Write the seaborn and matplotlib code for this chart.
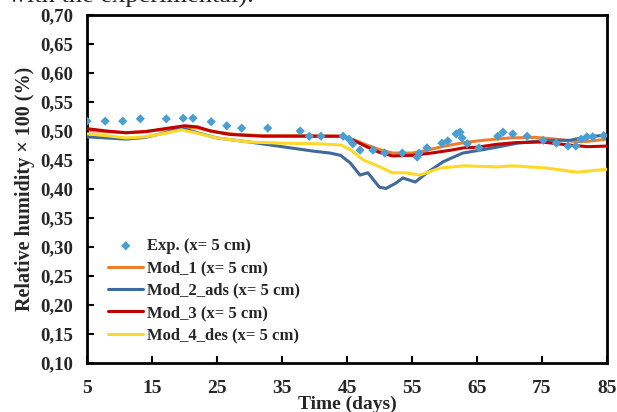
import matplotlib
matplotlib.use("Agg")
import matplotlib.pyplot as plt
import seaborn as sns
import numpy as np

# ---------------- data ----------------
exp_days = [5, 7.8, 10.5, 13.2, 17.2, 19.8, 21.3, 24.1, 26.5, 28.8, 32.8, 37.8, 39.2, 41.0,
            44.4, 45.3, 45.9, 47.0, 49.0, 50.8, 53.5, 55.8, 56.1, 57.3, 59.6, 60.5, 61.8,
            62.4, 62.7, 63.5, 65.3, 68.2, 69.0, 70.5, 72.7, 75.2, 77.2, 79.0, 80.2, 81.0,
            81.9, 82.8, 84.5]
exp_rh = [0.517, 0.517, 0.517, 0.521, 0.521, 0.522, 0.522, 0.516, 0.509, 0.505, 0.505, 0.500,
          0.491, 0.491, 0.491, 0.486, 0.478, 0.467, 0.467, 0.462, 0.462, 0.455, 0.462, 0.471,
          0.479, 0.483, 0.495, 0.498, 0.488, 0.478, 0.471, 0.491, 0.498, 0.495, 0.491, 0.484,
          0.479, 0.474, 0.474, 0.486, 0.490, 0.490, 0.492]

mod1_days = [5, 8, 11, 14, 17, 20, 22, 25, 28, 32, 38, 44, 46, 48, 50, 52, 55, 57, 60, 63,
             66, 70, 74, 77, 80, 82, 85]
mod1_rh = [0.501, 0.499, 0.497, 0.499, 0.503, 0.507, 0.505, 0.498, 0.494, 0.492, 0.492, 0.491,
           0.485, 0.476, 0.468, 0.462, 0.462, 0.466, 0.474, 0.480, 0.484, 0.488, 0.489, 0.486,
           0.482, 0.482, 0.486]

mod2_days = [5, 8, 11, 14, 17, 19.5, 22, 25, 30, 35, 40, 42.4, 44, 45.5, 47, 48.2, 50, 51,
             52.5, 53.6, 55.5, 57.3, 59.8, 62.8, 65.5, 68, 71.2, 75.8, 79.3, 81.9, 85]
mod2_rh = [0.490, 0.488, 0.486, 0.489, 0.497, 0.505, 0.497, 0.488, 0.481, 0.473, 0.465, 0.462,
           0.458, 0.445, 0.424, 0.428, 0.403, 0.401, 0.410, 0.419, 0.412, 0.428, 0.447, 0.462,
           0.467, 0.472, 0.479, 0.484, 0.484, 0.490, 0.493]

mod3_days = [5, 8, 11, 14, 17, 20, 22, 24, 27, 32, 38, 44, 46, 48, 50, 52, 55, 58, 61, 63,
             65, 68, 71, 75, 79, 82, 85]
mod3_rh = [0.504, 0.500, 0.497, 0.499, 0.504, 0.509, 0.507, 0.500, 0.494, 0.491, 0.491, 0.491,
           0.484, 0.473, 0.463, 0.457, 0.458, 0.462, 0.467, 0.471, 0.472, 0.477, 0.480, 0.481,
           0.476, 0.473, 0.474]

mod4_days = [5, 8, 11, 14, 17, 19.5, 22, 25, 30, 35, 40, 44, 45.5, 47.5, 49.5, 52, 54, 56.2,
             59.3, 63, 68, 70.5, 75.8, 80.4, 85]
mod4_rh = [0.495, 0.492, 0.488, 0.490, 0.496, 0.502, 0.496, 0.488, 0.481, 0.479, 0.478, 0.476,
           0.468, 0.450, 0.441, 0.428, 0.428, 0.424, 0.436, 0.440, 0.438, 0.440, 0.436, 0.429,
           0.434]

series_labels = ["Exp. (x= 5 cm)", "Mod_1 (x= 5 cm)", "Mod_2_ads (x= 5 cm)",
                 "Mod_3 (x= 5 cm)", "Mod_4_des (x= 5 cm)"]
x_ticks = [5, 15, 25, 35, 45, 55, 65, 75, 85]
y_ticks = [0.10, 0.15, 0.20, 0.25, 0.30, 0.35, 0.40, 0.45, 0.50, 0.55, 0.60, 0.65, 0.70]
y_tick_labels = ["0,10", "0,15", "0,20", "0,25", "0,30", "0,35", "0,40", "0,45", "0,50",
                 "0,55", "0,60", "0,65", "0,70"]

# ---------------- style ----------------
sns.set_theme(style="white")
plt.rcParams["font.family"] = ["Liberation Serif", "DejaVu Serif"]
plt.rcParams["font.weight"] = "bold"

fig = plt.figure(figsize=(6.17, 4.12), dpi=100)
ax = fig.add_axes([87 / 617, 1 - 363 / 412, 520 / 617, 348 / 412])

lw = 2.2
sns.lineplot(x=mod1_days, y=mod1_rh, ax=ax, color="#ED7D31", lw=lw, label=series_labels[1], zorder=2)
sns.lineplot(x=mod2_days, y=mod2_rh, ax=ax, color="#41699A", lw=lw, label=series_labels[2], zorder=3)
sns.lineplot(x=mod3_days, y=mod3_rh, ax=ax, color="#C00000", lw=lw, label=series_labels[3], zorder=4)
sns.lineplot(x=mod4_days, y=mod4_rh, ax=ax, color="#FFD92A", lw=lw, label=series_labels[4], zorder=5)
sns.scatterplot(x=exp_days, y=exp_rh, ax=ax, color="#4A9FD2", marker="D", s=22,
                edgecolor="none", label=series_labels[0], zorder=6)

ax.set_xlim(5, 85)
ax.set_ylim(0.10, 0.70)
ax.set_xticks(x_ticks)
ax.set_xticklabels([str(t) for t in x_ticks], fontsize=14, fontweight="bold")
ax.set_yticks(y_ticks)
ax.set_yticklabels(y_tick_labels, fontsize=13.5, fontweight="bold")
ax.tick_params(axis="both", direction="in", length=5, width=1.5, color="black",
               bottom=True, left=True, top=False, right=False)
ax.tick_params(axis="y", pad=10)
ax.tick_params(axis="x", pad=12)
for sp in ax.spines.values():
    sp.set_visible(True)
    sp.set_color("black")
    sp.set_linewidth(2)

ax.set_xlabel("Time (days)", fontsize=14, fontweight="bold", labelpad=-1)
ax.set_ylabel("Relative humidity × 100 (%)", fontsize=14.5, fontweight="bold", labelpad=4)

handles, labels = ax.get_legend_handles_labels()
order = [labels.index(l) for l in series_labels]
ax.legend([handles[i] for i in order], [labels[i] for i in order], loc="lower left",
          bbox_to_anchor=(0.012, 0.013), frameon=False, handlelength=2.1,
          handletextpad=0.2, labelspacing=0.38, prop={"weight": "bold", "size": 12})

fig.text(8 / 617, 1 - 3 / 412, "with the experimental).", fontsize=19, fontweight="normal",
         va="baseline", ha="left")

fig.savefig("out.png", dpi=100)
